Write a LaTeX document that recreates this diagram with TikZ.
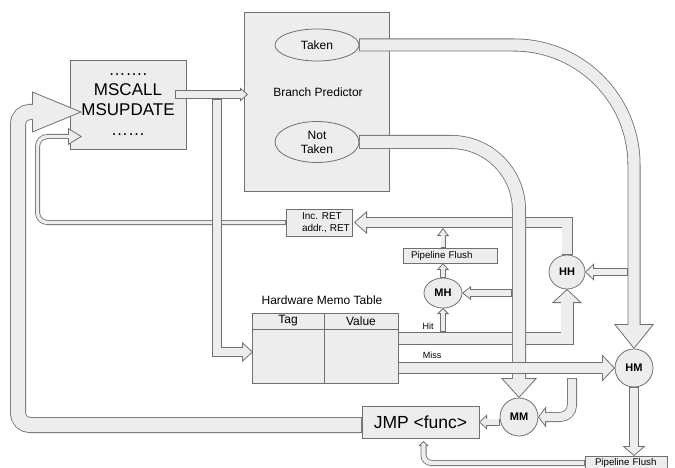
\documentclass[tikz,border=0pt]{standalone}
\usepackage{fontspec}
\setmainfont{Liberation Sans}
\usepackage{tikz}
\usetikzlibrary{arrows.meta}
\usetikzlibrary{shapes.geometric}

\definecolor{edgegray}{HTML}{707070}
\definecolor{boxgray}{HTML}{EDEDED}

\tikzset{
  box/.style={draw=edgegray, fill=boxgray, line width=0.8pt, inner sep=0pt, outer sep=0pt},
  oval/.style={box, ellipse},
  unit/.style={oval, font=\fontsize{11}{11}\selectfont\bfseries},
  rule/.style={draw=edgegray, line width=0.8pt},
  pipe/.style n args={3}{draw=edgegray, line width=#1pt,
    -{Triangle[length=#2pt, width=#3pt, line width=0.8pt, fill=boxgray]},
    postaction={draw=boxgray, line width=#1pt-1.6pt, arrows=-,
      shorten <=0.8pt, shorten >=#2pt-1pt}},
}

\begin{document}
\begin{tikzpicture}[x=1pt, y=-1pt]
\useasboundingbox (0,0) rectangle (675,468);
\clip (0,0) rectangle (675,468);
\node[box, minimum width=116pt, minimum height=89pt, align=center, font=\fontsize{17}{20}\selectfont] (ms) at (128,104.5) {…….\\MSCALL\\MSUPDATE\\……};
\node[box, minimum width=145pt, minimum height=179pt] (bp) at (316.5,101.5) {};
\node[font=\fontsize{12}{14}\selectfont] (bplabel) at (318,92) {Branch Predictor};
\node[oval, minimum width=84pt, minimum height=32pt, font=\fontsize{12}{14}\selectfont] (taken) at (317,45) {Taken};
\node[oval, minimum width=84pt, minimum height=41pt, align=center, font=\fontsize{12}{14}\selectfont] (nottaken) at (317,142) {Not\\Taken};
\node[font=\fontsize{12}{14}\selectfont] (memotitle) at (322,300) {Hardware Memo Table};
\node[box, minimum width=146pt, minimum height=70pt] (memo) at (325,348) {};
\draw[rule] (memo.north west) ++(0,16) -- ++(146,0);
\draw[rule] (memo.north) ++(-1,0) -- ++(0,70);
\node[font=\fontsize{12}{14}\selectfont] (tag) at (288,321) {Tag};
\node[font=\fontsize{12}{14}\selectfont] (value) at (361,321) {Value};
\node[box, minimum width=66pt, minimum height=27pt] (incret) at (319,222.5) {};
\node[anchor=east, inner sep=0pt, align=left, font=\fontsize{10}{11.5}\selectfont] (increttext) at ([xshift=-2pt]incret.east) {Inc. RET\\addr., RET};
\node[box, text width=78pt, inner xsep=8pt, minimum height=15pt, align=left, font=\fontsize{9.7}{10}\selectfont] (pf1) at (450,255.5) {Pipeline Flush};
\node[box, text width=62pt, inner xsep=10pt, minimum height=14pt, align=left, font=\fontsize{9.7}{10}\selectfont] (pf2) at (626,463) {Pipeline Flush};
\node[box, minimum width=117pt, minimum height=32pt, font=\fontsize{17.5}{20}\selectfont] (jmp) at (420.5,422) {JMP <func>};
\node[unit, minimum width=36pt, minimum height=34pt] (hh) at (567,272) {HH};
\node[unit, minimum width=38pt, minimum height=30pt] (mh) at (443,293) {MH};
\node[unit, minimum width=38pt, minimum height=38pt] (hm) at (634,368) {HM};
\node[unit, minimum width=38pt, minimum height=38pt] (mm) at (519,417) {MM};
\node[font=\fontsize{9}{10}\selectfont] (hit) at (428,326) {Hit};
\node[font=\fontsize{9}{10}\selectfont] (miss) at (432,355) {Miss};
\coordinate (msout) at (175,94.5);
\coordinate (bpin) at (248,94.5);
\coordinate (msdown) at (217,99);
\coordinate (memoin) at (253,352);
\coordinate (hitout) at (398,338.5);
\coordinate (missout) at (398,368);
\coordinate (hitup) at (443,332);
\coordinate (retbar) at (443,228);
\coordinate (takenside) at (627.5,272);
\coordinate (nottakenside) at (512,293);
\coordinate (missdown) at (572,378);
\coordinate (flushup) at (423.5,441);
\coordinate (jmpout) at (362,425);
\coordinate (loopin) at (82,112);
\coordinate (retin) at (82,136.5);
\draw[pipe={5}{14}{17}, rounded corners=10pt] (incret.west) -| (37.5,136.5) -- (retin);
\draw[pipe={16}{50}{41}, rounded corners=12pt] (jmpout) -| (18,112) -- (loopin);
\draw[pipe={9}{8}{14}] (msout) -- (bpin);
\draw[pipe={10}{11}{20}] (msdown) |- (memoin);
\draw[pipe={11}{13}{23}] (hh.north) |- ([xshift=2pt]incret.east);
\draw[pipe={13}{14}{30}] (hitout) -| (hh.south);
\draw[pipe={6}{6}{12}] (hitup) -- (mh.south);
\draw[pipe={6}{7}{12}] (mh.north) -- (mh.north |- pf1.south);
\draw[pipe={5}{8}{12}] (mh.north |- pf1.north) -- (retbar);
\draw[pipe={14}{20}{36}, rounded corners=68pt] (nottaken.east) -| (mm.north);
\draw[pipe={8}{9}{14}] (nottakenside) -- (mh.east);
\draw[pipe={12}{13}{27}] (missout) -- (hm.west);
\draw[pipe={10}{8}{21}, rounded corners=12pt] (missdown) |- (mm.east);
\draw[pipe={13}{25}{40}, rounded corners=120pt] (taken.east) -| (hm.north);
\draw[pipe={8}{9}{17}] (takenside) -- (hh.east);
\draw[pipe={7}{8}{15}] (mm.west |- jmp.east) -- (jmp.east);
\draw[pipe={10}{10}{23}] (hm.south) -- (hm.south |- pf2.north);
\draw[pipe={6}{5}{10}, rounded corners=8pt] (pf2.west) -| (flushup);
\end{tikzpicture}
\end{document}
